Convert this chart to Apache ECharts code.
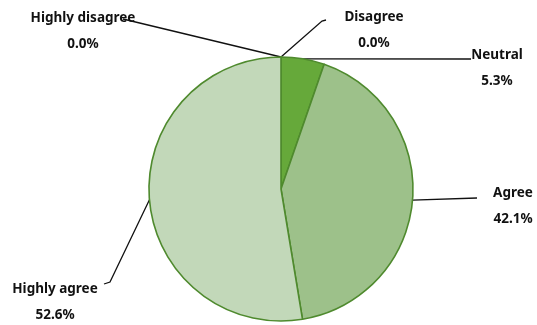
<!DOCTYPE html>
<html>
<head>
<meta charset="utf-8">
<style>
  html, body { margin: 0; padding: 0; background: #ffffff; }
  #chart { width: 537px; height: 325px; }
</style>
<script src="https://cdn.jsdelivr.net/npm/echarts@6/dist/echarts.min.js"></script>
</head>
<body>
<div id="chart"></div>
<script>
// Survey responses (% of respondents)
const categories = ['Highly disagree', 'Disagree', 'Neutral', 'Agree', 'Highly agree'];
const shares = [0.0, 0.0, 5.3, 42.1, 52.6];
const sliceColors = ['#3f7f1f', '#4e8f2b', '#66a93a', '#9dc18a', '#c2d8b9'];

// Where each two-line label sits (centre of the text block) and where its leader line ends
const labelSpots = {
  'Highly disagree': { cx: 83,  cy: 31,  end: [[123, 19]] },
  'Disagree':        { cx: 374, cy: 30,  end: [[322, 21], [326, 20]] },
  'Neutral':         { cx: 497, cy: 68,  end: [[471, 59]] },
  'Agree':           { cx: 513, cy: 206, end: [[477, 198]] },
  'Highly agree':    { cx: 55,  cy: 302, end: [[110, 282], [104, 284]] }
};

const chart = echarts.init(document.getElementById('chart'), null, { renderer: 'canvas' });

chart.setOption({
  animation: false,
  backgroundColor: '#ffffff',
  series: [{
    type: 'pie',
    center: [281, 189],
    radius: 132,
    startAngle: 90,
    clockwise: true,
    avoidLabelOverlap: false,
    minShowLabelAngle: 0,
    data: categories.map((name, i) => ({
      name: name,
      value: shares[i],
      itemStyle: { color: sliceColors[i] }
    })),
    itemStyle: { borderColor: '#4f8a2e', borderWidth: 1.6 },
    label: {
      show: true,
      formatter: p => p.name + '\n' + p.value.toFixed(1) + '%',
      fontFamily: 'Noto Sans',
      fontWeight: 'bold',
      fontSize: 13.5,
      lineHeight: 26,
      color: '#111111',
      align: 'center'
    },
    labelLine: {
      show: true,
      lineStyle: { color: '#111111', width: 1.3 }
    },
    labelLayout: function (params) {
      const name = categories[params.dataIndex];
      const spot = labelSpots[name];
      const start = params.labelLinePoints ? params.labelLinePoints[0] : null;
      const out = {
        x: spot.cx,
        y: spot.cy,
        align: 'center',
        verticalAlign: 'middle'
      };
      if (start) {
        out.labelLinePoints = [[start[0], start[1]]].concat(spot.end);
      }
      return out;
    },
    emphasis: { disabled: true }
  }]
});
</script>
</body>
</html>
